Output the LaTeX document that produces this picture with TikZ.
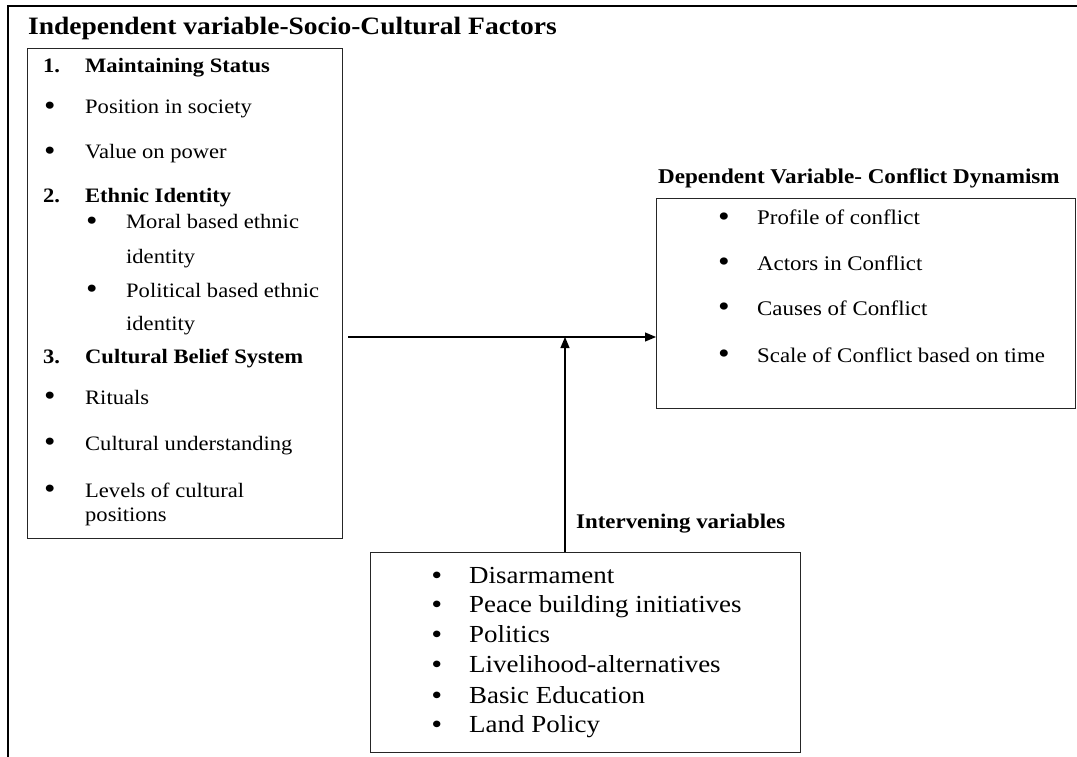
\documentclass[tikz,border=0pt]{standalone}
\usepackage{fontspec}
\setmainfont{Liberation Serif}[FakeStretch=1.1]
\usepackage{tikz}
\usetikzlibrary{arrows.meta, positioning}

% bullet in a fixed-width column
\newcommand{\bul}[1]{\makebox[#1][l]{\smash{\raisebox{-0.12ex}{\scalebox{1.45}{\textbullet}}}}}
\newcommand{\sbul}[1]{\makebox[#1][l]{\textbf{\textbullet}}}

\begin{document}
\begin{tikzpicture}[x=1pt, y=-1pt, >={Triangle[length=11pt, width=9pt]},
    every node/.style={inner sep=0pt},
    frame/.style={line width=1.8pt},
    box/.style={draw=black!85, line width=1.3pt, anchor=north west},
    head/.style={anchor=base west, font=\bfseries\fontsize{#1}{#1}\selectfont},
    txt/.style={anchor=base west, font=\fontsize{#1}{#1}\selectfont},
    link/.style={->, line width=1.1pt}]
    \useasboundingbox (0,0) rectangle (1077,757);

    % outer frame
    \draw[frame] (1077,6) -- (8,6) -- (8,757);
    \node[head=25] (ttlindep) at (28,35) {Independent variable-Socio-Cultural Factors};

    % boxes
    \node[box, minimum width=315, minimum height=490] (indep) at (27,48) {};
    \node[box, minimum width=419, minimum height=210] (dep) at (656,198) {};
    \node[box, minimum width=430, minimum height=200] (interv) at (370,552) {};

    \node[head=21] (ttldep) at (658,184) {Dependent Variable- Conflict Dynamism};
    \node[head=20.8] (ttlinterv) at (576,528) {Intervening variables};

    % independent variable list
    \node[head=20.5] (n1) at (43,73) {\makebox[42pt][l]{1.}Maintaining Status};
    \node[txt=20.5] (a1) at (44,114) {\bul{41pt}Position in society};
    \node[txt=20.5] (a2) at (44,159) {\bul{41pt}Value on power};
    \node[head=20.5] (n2) at (43,203) {\makebox[42pt][l]{2.}Ethnic Identity};
    \node[txt=20.5] (b1) at (86,229) {\bul{40pt}Moral based ethnic};
    \node[txt=20.5] (b1x) at (126,263) {identity};
    \node[txt=20.5] (b2) at (86,297) {\bul{40pt}Political based ethnic};
    \node[txt=20.5] (b2x) at (126,330) {identity};
    \node[head=20.5] (n3) at (43,363) {\makebox[42pt][l]{3.}Cultural Belief System};
    \node[txt=20.5] (c1) at (44,404) {\bul{41pt}Rituals};
    \node[txt=20.5] (c2) at (44,450) {\bul{41pt}Cultural understanding};
    \node[txt=20.5] (c3) at (44,497) {\bul{41pt}Levels of cultural};
    \node[txt=20.5] (c3x) at (85,521) {positions};

    % dependent variable list
    \node[txt=20.8] (d1) at (718,225) {\bul{39pt}Profile of conflict};
    \node[txt=20.8] (d2) at (718,270) {\bul{39pt}Actors in Conflict};
    \node[txt=20.8] (d3) at (718,315) {\bul{39pt}Causes of Conflict};
    \node[txt=20.8] (d4) at (718,362) {\bul{39pt}Scale of Conflict based on time};

    % intervening variable list
    \node[txt=24.5] (i1) at (432,583) {\sbul{37pt}Disarmament};
    \node[txt=24.5] (i2) at (432,612) {\sbul{37pt}Peace building initiatives};
    \node[txt=24.5] (i3) at (432,642) {\sbul{37pt}Politics};
    \node[txt=24.5] (i4) at (432,672) {\sbul{37pt}Livelihood-alternatives};
    \node[txt=24.5] (i5) at (432,703) {\sbul{37pt}Basic Education};
    \node[txt=24.5] (i6) at (432,732) {\sbul{37pt}Land Policy};

    % connectors
    \coordinate (join) at (565,337);
    \draw[link] ([xshift=5pt]indep.east |- join) -- (dep.west |- join);
    \draw[link] (interv.north -| join) -- (join);
\end{tikzpicture}
\end{document}
